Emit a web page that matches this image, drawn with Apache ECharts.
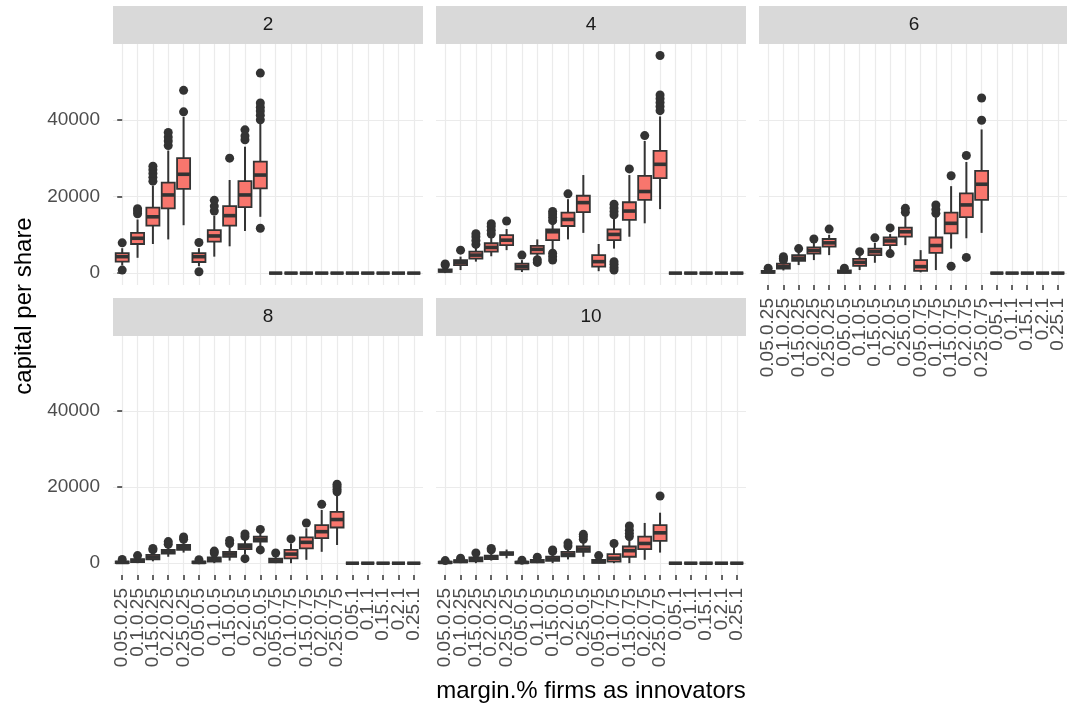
<!DOCTYPE html>
<html>
<head>
<meta charset="utf-8">
<script src="https://cdn.jsdelivr.net/npm/echarts@6.0.0/dist/echarts.min.js"></script>
<style>
  html, body { margin: 0; padding: 0; background: #fff; }
  #main { width: 1067px; height: 706px; }
</style>
</head>
<body>
<div id="main"></div>
<script>
const cats = ['0.05.0.25', '0.1.0.25', '0.15.0.25', '0.2.0.25', '0.25.0.25',
  '0.05.0.5', '0.1.0.5', '0.15.0.5', '0.2.0.5', '0.25.0.5',
  '0.05.0.75', '0.1.0.75', '0.15.0.75', '0.2.0.75', '0.25.0.75',
  '0.05.1', '0.1.1', '0.15.1', '0.2.1', '0.25.1']
const panels = ['2', '4', '6', '8', '10']
const yTicks = [0, 20000, 40000]
const zero = [0, 0, 0, 0, 0]

// [low whisker, Q1, median, Q3, high whisker] per category
const box2 = [
  [2000, 3000, 4300, 5200, 6500], [4000, 7600, 9100, 10500, 14000], [7600, 12400, 14700, 17100, 22800],
  [8800, 16900, 20400, 23600, 32000], [12500, 22000, 25800, 30000, 40800],
  [1800, 2900, 4300, 5200, 6500], [4300, 8200, 9700, 11200, 15000], [7000, 12400, 15000, 17500, 24300],
  [11000, 17200, 20400, 24000, 33000], [14700, 22100, 25600, 29100, 39200],
  zero, zero, zero, zero, zero, zero, zero, zero, zero, zero
]
const out2 = [
  [7900, 800], [15500, 16200, 16800], [24000, 25000, 26000, 27000, 27900], [33300, 34500, 35500, 36700], [42100, 47700],
  [8000, 350], [16200, 17500, 19000], [30000], [34800, 35800, 37400], [11700, 40000, 41200, 42300, 43300, 44400, 52200],
  [], [], [], [], [], [], [], [], [], []
]

const box4 = [
  [0, 300, 600, 1000, 1800], [800, 2100, 2800, 3400, 4300], [3000, 3800, 4700, 5600, 6900],
  [4400, 5600, 6700, 7800, 9500], [6000, 7300, 8600, 9900, 11500],
  [300, 1000, 1700, 2500, 3400], [4500, 5100, 6200, 7100, 8800], [6200, 8600, 10800, 11400, 13000],
  [8800, 12300, 14000, 15800, 19300], [10500, 15900, 18400, 20200, 25600],
  [500, 1700, 3000, 4700, 7600], [6400, 8600, 10100, 11400, 14500], [9500, 13900, 16200, 18500, 25600],
  [13000, 19100, 21300, 25400, 34500], [16700, 24800, 28400, 31900, 40900],
  zero, zero, zero, zero, zero
]
const out4 = [
  [2100, 2400], [6000], [7500, 8500, 9500, 10300], [10200, 11200, 12200, 12900], [13600],
  [4700], [2800, 3500], [3400, 4300, 5200, 13700, 14600, 15400, 16100], [20700], [],
  [], [800, 1500, 2300, 3000, 15200, 16100, 17000, 18000], [27200], [35900], [42400, 43500, 44500, 45500, 46500, 56800],
  [], [], [], [], []
]

const box6 = [
  [0, 100, 300, 600, 1100], [700, 1200, 1700, 2500, 3200], [2100, 3200, 3900, 4700, 5600],
  [3400, 5100, 5900, 6700, 8200], [4700, 6900, 7900, 8900, 10000],
  [0, 100, 300, 700, 1100], [800, 1900, 2800, 3700, 4800], [2700, 4700, 5600, 6400, 7900],
  [6000, 7300, 8400, 9300, 10200], [7300, 9500, 10800, 11900, 15000],
  [200, 600, 1700, 3400, 6000], [800, 5300, 7200, 9300, 14600], [6400, 10400, 13000, 15800, 22700],
  [9100, 14600, 17800, 20800, 29000], [10500, 19100, 23200, 26700, 37500],
  zero, zero, zero, zero, zero
]
const out6 = [
  [1300], [3400, 3900, 4300], [6400], [8900], [11500],
  [1300], [5600], [9200], [5100, 11800], [15900, 16900],
  [], [15600, 16600, 17800], [1800, 25400], [4100, 30700], [39900, 45700],
  [], [], [], [], []
]

const box8 = [
  [0, 50, 200, 450, 800], [0, 300, 700, 1100, 1600], [500, 1000, 1600, 2200, 3200],
  [1700, 2500, 3000, 3500, 4500], [2800, 3500, 4200, 4800, 5800],
  [0, 50, 200, 450, 800], [0, 400, 900, 1500, 2400], [700, 1700, 2400, 3000, 4600],
  [2300, 3700, 4400, 5000, 6300], [4500, 5700, 6300, 7000, 8000],
  [0, 200, 600, 1200, 2200], [0, 1300, 2400, 3500, 5200], [900, 3900, 5500, 6800, 9200],
  [3000, 6600, 8300, 10000, 14000], [4800, 9400, 11500, 13500, 18300],
  zero, zero, zero, zero, zero
]
const out8 = [
  [1000], [2000], [3500, 3900], [5000, 5700], [6300, 6900],
  [900], [2700, 3200], [5200, 6000], [1200, 7000, 7700], [3500, 8900],
  [2700], [6400], [10600], [15500], [18800, 19500, 20200, 20800],
  [], [], [], [], []
]

const box10 = [
  [0, 50, 200, 400, 600], [0, 200, 500, 800, 1100], [0, 500, 1000, 1500, 2300],
  [700, 1100, 1600, 2000, 3100], [1300, 2200, 2500, 2900, 3600],
  [0, 50, 200, 400, 600], [0, 200, 500, 900, 1300], [0, 600, 1100, 1700, 2600],
  [1000, 1800, 2300, 3000, 4000], [1700, 3000, 3700, 4400, 5800],
  [0, 100, 400, 900, 1600], [0, 400, 1300, 2400, 4200], [0, 1700, 3300, 4400, 6200],
  [900, 3700, 5200, 7000, 10600], [2800, 5900, 8000, 10000, 13300],
  zero, zero, zero, zero, zero
]
const out10 = [
  [700], [1300], [2700], [3500, 3900], [],
  [800], [1600], [3100, 3500], [4500, 5300], [6300, 7000, 7600],
  [2000], [5200], [7000, 7800, 8700, 9800], [], [17700],
  [], [], [], [], []
]

const boxes = [box2, box4, box6, box8, box10]
const outliers = [out2, out4, out6, out8, out10]

const font = "'Liberation Sans', Arial, Helvetica, sans-serif"
const colLeft = [113, 436, 759]
const rowTop = [44, 336]
const rowH = [241, 239]
const panelW = 310
const stripH = 38
const catIdx = cats.map((c, i) => i)
const step = panelW / (cats.length - 1 + 1.2)

function renderBox(params, api) {
  const x = api.value(0)
  const lo = api.coord([x, api.value(1)])
  const q1 = api.coord([x, api.value(2)])
  const md = api.coord([x, api.value(3)])
  const q3 = api.coord([x, api.value(4)])
  const hi = api.coord([x, api.value(5)])
  const w = api.size([0.85, 0])[0]
  return {
    type: 'group',
    children: [
      { type: 'line', shape: { x1: hi[0], y1: hi[1], x2: lo[0], y2: lo[1] }, style: { stroke: '#333333', lineWidth: 2 } },
      { type: 'rect', shape: { x: q3[0] - w / 2, y: q3[1], width: w, height: q1[1] - q3[1] }, style: { fill: '#F8766D', stroke: '#333333', lineWidth: 1.8 } },
      { type: 'line', shape: { x1: md[0] - w / 2, y1: md[1], x2: md[0] + w / 2, y2: md[1] }, style: { stroke: '#333333', lineWidth: 3.6 } }
    ]
  }
}

const grid = [], xAxis = [], yAxis = [], series = [], graphic = []
panels.forEach((name, p) => {
  const col = p % 3
  const row = Math.floor(p / 3)
  const left = colLeft[col]
  const top = rowTop[row]
  const showY = col === 0

  grid.push({ left: left, top: top, width: panelW, height: rowH[row] })

  xAxis.push({
    type: 'value', gridIndex: p, min: -0.6, max: 19.6,
    axisLine: { show: false },
    axisTick: { show: false, customValues: catIdx },
    axisLabel: { show: false },
    splitLine: { show: true, lineStyle: { color: '#EBEBEB', width: 1.2 } }
  })

  yAxis.push({
    type: 'value', gridIndex: p, min: -3100, max: 59800,
    axisLine: { show: false },
    axisTick: { show: showY, customValues: yTicks, length: 5, lineStyle: { color: '#333333', width: 1.5 } },
    axisLabel: {
      show: showY, customValues: yTicks, margin: 13, fontSize: 19, color: '#4D4D4D', fontFamily: font,
      formatter: v => String(v)
    },
    splitLine: { show: true, lineStyle: { color: '#EBEBEB', width: 1.2 } }
  })

  series.push({
    type: 'custom', xAxisIndex: p, yAxisIndex: p,
    renderItem: renderBox,
    encode: { x: 0, y: [1, 2, 3, 4, 5] },
    data: boxes[p].map((b, i) => [i].concat(b)),
    silent: true
  })

  const pts = []
  outliers[p].forEach((vals, i) => vals.forEach(v => pts.push([i, v])))
  series.push({
    type: 'scatter', xAxisIndex: p, yAxisIndex: p,
    symbol: 'circle', symbolSize: 9,
    itemStyle: { color: '#333333', opacity: 1 },
    data: pts, silent: true, z: 3
  })

  graphic.push({
    type: 'rect', left: left, top: top - stripH,
    shape: { width: panelW, height: stripH },
    style: { fill: '#D9D9D9' }
  })
  graphic.push({
    type: 'text', x: left + panelW / 2, y: top - stripH / 2,
    style: { text: name, fontSize: 19, fontFamily: font, fill: '#1A1A1A', textAlign: 'center', textVerticalAlign: 'middle' }
  })
})

// category axes carrying the rotated tick labels under panels 6, 8 and 10
panels.forEach((name, p) => {
  if (p < 2) return
  const col = p % 3
  const row = Math.floor(p / 3)
  const g = grid.length
  grid.push({ left: colLeft[col] + 0.1 * step, top: rowTop[row], width: step * cats.length, height: rowH[row] })
  xAxis.push({
    type: 'category', gridIndex: g, data: cats, boundaryGap: true,
    axisLine: { show: false },
    axisTick: { show: true, alignWithLabel: true, interval: 0, length: 5, lineStyle: { color: '#333333', width: 1.5 } },
    axisLabel: { interval: 0, rotate: 90, margin: 13, fontSize: 19, color: '#4D4D4D', fontFamily: font },
    splitLine: { show: false }
  })
  yAxis.push({ type: 'value', gridIndex: g, show: false, min: 0, max: 1 })
})

graphic.push({
  type: 'text', x: 24, y: 306, rotation: Math.PI / 2,
  style: { text: 'capital per share', fontSize: 24, fontFamily: font, fill: '#000', textAlign: 'center', textVerticalAlign: 'middle' }
})
graphic.push({
  type: 'text', x: 591, y: 691,
  style: { text: 'margin.% firms as innovators', fontSize: 24, fontFamily: font, fill: '#000', textAlign: 'center', textVerticalAlign: 'middle' }
})

const chart = echarts.init(document.getElementById('main'))
chart.setOption({
  backgroundColor: '#ffffff',
  animation: false,
  grid: grid,
  xAxis: xAxis,
  yAxis: yAxis,
  series: series,
  graphic: graphic
})
</script>
</body>
</html>
